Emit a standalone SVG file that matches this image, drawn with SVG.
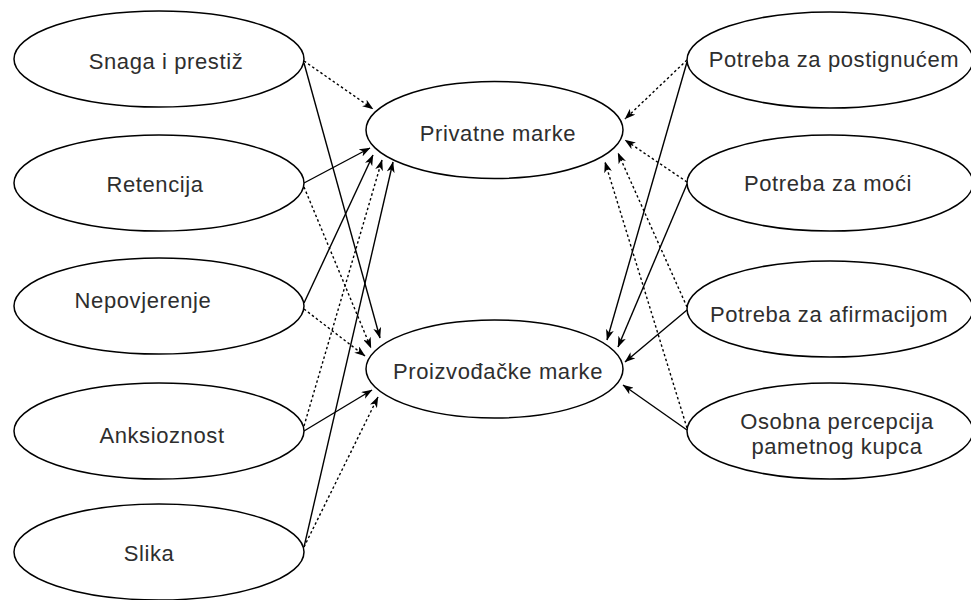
<svg xmlns="http://www.w3.org/2000/svg" width="971" height="600" viewBox="0 0 971 600">
<style>
.node ellipse{fill:#fff;stroke:#000;stroke-width:1.5}
.node text{font-family:"Liberation Sans",Arial,sans-serif;font-size:22px;letter-spacing:0.6px;fill:#2e2e2e;text-anchor:middle}
.edges line{stroke:#000;stroke-width:1.4;fill:none;marker-end:url(#arr)}
.edges line.dot{stroke-dasharray:2.5 2.5}
</style>
<defs>
<marker id="arr" markerUnits="userSpaceOnUse" viewBox="0 0 11 8" refX="10.5" refY="4" markerWidth="11" markerHeight="8" orient="auto">
<path d="M0,0 L11,4 L0,8 L3,4 Z" fill="#000"/>
</marker>
</defs>
<rect width="971" height="600" fill="#fff"/>
<g class="edges" id="connectors">
<line class="dot" x1="304" y1="61" x2="373" y2="109"/>
<line x1="304" y1="63" x2="380" y2="338"/>
<line x1="304" y1="183" x2="370" y2="148"/>
<line class="dot" x1="304" y1="187" x2="371" y2="348"/>
<line x1="304" y1="303" x2="373" y2="155"/>
<line class="dot" x1="304" y1="309" x2="365" y2="356"/>
<line class="dot" x1="304" y1="426" x2="382" y2="160"/>
<line x1="304" y1="431" x2="372" y2="390"/>
<line x1="304" y1="547" x2="393" y2="162"/>
<line class="dot" x1="304" y1="547" x2="378" y2="397"/>
<line class="dot" x1="687" y1="60" x2="625" y2="119"/>
<line x1="687" y1="62" x2="607" y2="340"/>
<line class="dot" x1="687" y1="182" x2="625" y2="140"/>
<line x1="687" y1="184" x2="618" y2="347"/>
<line x1="687" y1="310" x2="625" y2="362"/>
<line class="dot" x1="687" y1="307" x2="618" y2="153"/>
<line x1="687" y1="430" x2="623" y2="385"/>
<line class="dot" x1="687" y1="428" x2="605" y2="162"/>
</g>
<g class="node" id="snaga"><ellipse cx="159" cy="59" rx="145" ry="48"/><text x="166" y="69">Snaga i prestiž</text></g>
<g class="node" id="retencija"><ellipse cx="159" cy="183" rx="145" ry="48"/><text x="155" y="192">Retencija</text></g>
<g class="node" id="nepovjerenje"><ellipse cx="159" cy="306" rx="145" ry="48"/><text x="143" y="308">Nepovjerenje</text></g>
<g class="node" id="anksioznost"><ellipse cx="159" cy="431" rx="145" ry="48"/><text x="162" y="443">Anksioznost</text></g>
<g class="node" id="slika"><ellipse cx="159" cy="552" rx="145" ry="48"/><text x="149" y="561">Slika</text></g>
<g class="node" id="privatne"><ellipse cx="494.5" cy="130" rx="128.5" ry="48.5"/><text x="498" y="141">Privatne marke</text></g>
<g class="node" id="proizvodacke"><ellipse cx="494.5" cy="369" rx="128.5" ry="49"/><text x="498" y="379">Proizvođačke marke</text></g>
<g class="node" id="postignucem"><ellipse cx="830" cy="60" rx="143" ry="48"/><text x="834" y="67">Potreba za postignućem</text></g>
<g class="node" id="moci"><ellipse cx="830" cy="183" rx="143" ry="48"/><text x="828" y="191">Potreba za moći</text></g>
<g class="node" id="afirmacija"><ellipse cx="830" cy="309" rx="143" ry="48"/><text x="829" y="322">Potreba za afirmacijom</text></g>
<g class="node" id="osobna"><ellipse cx="830" cy="431" rx="143" ry="48"/><text x="837" y="429">Osobna percepcija</text><text x="837" y="454">pametnog kupca</text></g>
</svg>
